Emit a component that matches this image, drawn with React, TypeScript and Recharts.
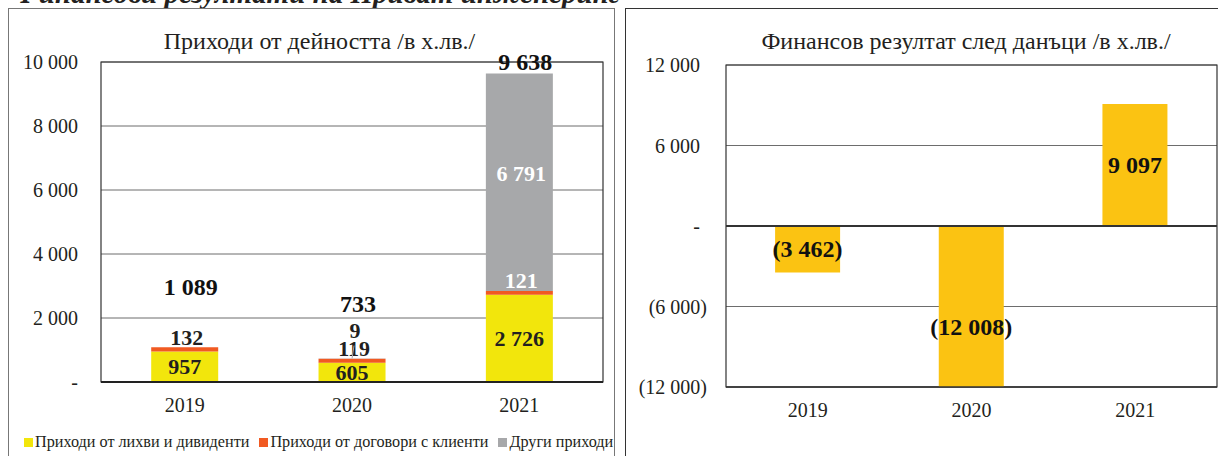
import { BarChart, Bar, XAxis, YAxis, CartesianGrid, ReferenceLine, ReferenceArea, LabelList } from "recharts";

const years = ["2019", "2020", "2021"];
const interestIncome = [957, 605, 2726];
const contractIncome = [132, 119, 121];
const otherIncome = [0, 9, 6791];
const totalIncome = [1089, 733, 9638];
const incomeTicks = [0, 2000, 4000, 6000, 8000, 10000];

const netResult = [-3462, -12008, 9097];
const resultTicks = [-12000, -6000, 0, 6000, 12000];

const legendItems = [
  { name: "Приходи от лихви и дивиденти", color: "#f2e60c" },
  { name: "Приходи от договори с клиенти", color: "#f15a22" },
  { name: "Други приходи", color: "#a7a8aa" },
];

// how far the total labels sit above each stack (manually placed in the original)
const TOTAL_LABEL_LIFT = [60, 55, 12];
const RESULT_LABEL_DY = [0, 20, 0];

const FONT = "'Liberation Serif', 'Times New Roman', serif";
const INK = "#231f20";

const incomeData = years.map((y, i) => ({
  year: y,
  interest: interestIncome[i],
  contract: contractIncome[i],
  other: otherIncome[i],
  total: totalIncome[i],
}));

const resultData = years.map((y, i) => ({ year: y, result: netResult[i] }));

const fmt = (n: number) => {
  if (n === 0) return "-";
  const s = String(Math.abs(n)).replace(/\B(?=(\d{3})+(?!\d))/g, " ");
  return n < 0 ? `(${s})` : s;
};

const boldLabel = (x: number, y: number, text: string, fill = INK, size = 22) => (
  <text x={x} y={y} textAnchor="middle" dominantBaseline="central" fill={fill}
    style={{ fontFamily: FONT, fontWeight: 700, fontSize: size }}>
    {text}
  </text>
);

const InterestLabel = (p: any) => {
  const { x, y, width, height, value } = p;
  return boldLabel(x + width / 2, y + height / 2, fmt(value));
};

const ContractLabel = (p: any) => {
  const { x, y, width, height, value } = p;
  const idx = years.indexOf(p.payload?.year ?? "");
  const onGray = idx >= 0 ? otherIncome[idx] > contractIncome[idx] : value === 121;
  return boldLabel(x + width / 2 + 2, y + height / 2 - 12, fmt(value), onGray ? "#fff" : INK);
};

const OtherLabel = (p: any) => {
  const { x, y, width, height, value } = p;
  if (!value) return null;
  const cx = x + width / 2;
  if (height < 20) {
    return (
      <g>
        <line x1={cx + 2} y1={y - 13} x2={cx} y2={y} stroke="#a7a8aa" strokeWidth={1} />
        {boldLabel(cx + 3, y - 28, fmt(value))}
      </g>
    );
  }
  return boldLabel(cx + 2, y + height / 2 - 9, fmt(value), "#fff");
};

const TotalLabel = (p: any) => {
  const { x, y, width, value } = p;
  const idx = totalIncome.indexOf(value);
  return boldLabel(x + width / 2 + 6, y - TOTAL_LABEL_LIFT[idx], fmt(value), "#111", 24);
};

const ResultLabel = (p: any) => {
  const { x, y, width, height, value } = p;
  const idx = netResult.indexOf(value);
  return boldLabel(x + width / 2, y + height / 2 + RESULT_LABEL_DY[idx], fmt(value), "#111", 24);
};

const ResultTick = (p: any) => {
  const { x, y, payload } = p;
  const v = payload.value as number;
  return (
    <text x={v < 0 ? x : x - 7} y={y} textAnchor="end" dominantBaseline="central" fill={INK}
      style={{ fontFamily: FONT, fontSize: 20 }}>
      {fmt(v)}
    </text>
  );
};

const tickStyle = { fontFamily: FONT, fontSize: 20, fill: INK };

export default function App() {
  return (
    <div style={{ position: "absolute", left: 0, top: 0, width: 1218, height: 456, overflow: "hidden", background: "#fff" }}>
      <div style={{ position: "absolute", left: 14, top: -23, fontFamily: FONT, fontStyle: "italic", fontWeight: 700, fontSize: 29, color: INK, whiteSpace: "nowrap" }}>
        Финансови резултати на Приват инженеринг
      </div>

      {/* left panel */}
      <div style={{ position: "absolute", left: 8, top: 8, width: 605, height: 460, borderLeft: "1px solid #777", borderTop: "1px solid #777", borderRight: "1px solid #777" }}>
        <div style={{ position: "absolute", left: 0, width: 605, top: 19, textAlign: "center", fontFamily: FONT, fontSize: 24, color: INK }}>
          <span style={{ position: "relative", left: 8 }}>Приходи от дейността /в х.лв./</span>
        </div>
        <BarChart width={605} height={447} data={incomeData} margin={{ top: 53, right: 11, bottom: 34, left: 12 }} barCategoryGap="30%">
          <CartesianGrid horizontal vertical={false} stroke="#6d6d6d" />
          <ReferenceArea y1={0} y2={10000} fill="none" stroke="#333" strokeWidth={1.2} />
          <XAxis dataKey="year" height={40} tickSize={0} tickMargin={16} tick={tickStyle} axisLine={{ stroke: "#222", strokeWidth: 2 }} tickLine={false} />
          <XAxis dataKey="year" xAxisId="tot" hide />
          <YAxis width={80} domain={[0, 10000]} ticks={incomeTicks} tickFormatter={fmt} tickSize={0} tickMargin={23} tick={tickStyle} axisLine={false} tickLine={false} />
          <Bar dataKey="interest" stackId="a" fill="#f2e60c" isAnimationActive={false}>
            <LabelList dataKey="interest" content={InterestLabel} />
          </Bar>
          <Bar dataKey="contract" stackId="a" fill="#f15a22" isAnimationActive={false}>
            <LabelList dataKey="contract" content={ContractLabel} />
          </Bar>
          <Bar dataKey="other" stackId="a" fill="#a7a8aa" isAnimationActive={false}>
            <LabelList dataKey="other" content={OtherLabel} />
          </Bar>
          <Bar dataKey="total" xAxisId="tot" fill="none" isAnimationActive={false}>
            <LabelList dataKey="total" content={TotalLabel} />
          </Bar>
        </BarChart>
        <div style={{ position: "absolute", left: 15, top: 424, display: "flex", gap: 10, fontFamily: FONT, fontSize: 16.2, color: INK, whiteSpace: "nowrap" }}>
          {legendItems.map((it) => (
            <div key={it.name} style={{ display: "flex", alignItems: "center", gap: 2 }}>
              <div style={{ width: 9, height: 9, background: it.color }} />
              <span>{it.name}</span>
            </div>
          ))}
        </div>
      </div>

      {/* right panel */}
      <div style={{ position: "absolute", left: 625, top: 8, width: 620, height: 460, borderLeft: "1px solid #333", borderTop: "1px solid #333" }}>
        <div style={{ position: "absolute", left: 0, width: 680, top: 19, textAlign: "center", fontFamily: FONT, fontSize: 24, color: INK }}>
          Финансов резултат след данъци /в х.лв./
        </div>
        <BarChart width={592} height={447} data={resultData} margin={{ top: 56, right: 1, bottom: 29, left: 10 }} barCategoryGap="30%">
          <CartesianGrid horizontal vertical={false} stroke="#6d6d6d" />
          <ReferenceArea y1={-12000} y2={12000} fill="none" stroke="#333" strokeWidth={1.2} />
          <XAxis dataKey="year" height={40} tickSize={0} tickMargin={16} tick={tickStyle} axisLine={{ stroke: "#333", strokeWidth: 1.5 }} tickLine={false} />
          <YAxis width={90} domain={[-12000, 12000]} ticks={resultTicks} allowDataOverflow tickSize={0} tickMargin={19} tick={<ResultTick />} axisLine={false} tickLine={false} />
          <ReferenceLine y={0} stroke="#333" strokeWidth={2} />
          <Bar dataKey="result" fill="#fbc312" isAnimationActive={false}>
            <LabelList dataKey="result" content={ResultLabel} />
          </Bar>
        </BarChart>
      </div>
    </div>
  );
}
